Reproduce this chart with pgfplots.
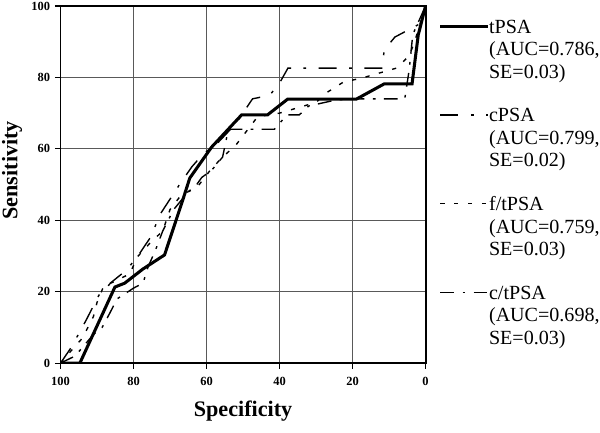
\documentclass[border=0pt]{standalone}
\usepackage{fontspec}
\setmainfont{Liberation Serif}
\usepackage{pgfplots}
\pgfplotsset{compat=1.18}
\begin{document}
\begin{tikzpicture}
\useasboundingbox (-1.537,-1.753) rectangle (13.70,9.222);
\begin{axis}[at={(0,0)},anchor=south west,scale only axis,width=9.27cm,height=9.07cm,
 x dir=reverse,xmin=0,xmax=100,ymin=0,ymax=100,
 xtick={0,20,...,100},ytick={0,20,...,100},
 grid=major,grid style={black!65,line width=0.6pt},
 axis line style={line width=1.4pt},
 tick style={black,line width=0.8pt},tick align=outside,major tick length=4pt,tick pos=left,
 ticklabel style={font=\fontsize{9}{10}\selectfont\bfseries},
 xticklabel style={yshift=-0.8mm},
 /pgf/number format/assume math mode=true,
 xlabel={Specificity},ylabel={Sensitivity},
 label style={font=\fontsize{16}{18}\selectfont\bfseries},
 xlabel style={at={(axis description cs:0.5,-0.135)},anchor=center},
 ylabel style={at={(axis description cs:-0.133,0.54)},anchor=center},
 legend style={draw=none,fill=none,at={(axis description cs:1.040,0.97)},anchor=north west,
  font=\fontsize{14.5}{16.3}\selectfont,cells={align=left},row sep=5.7mm,inner sep=0pt,
  nodes={inner xsep=1pt}},
 legend cell align=left,
 legend image code/.code={\path[draw=none] (0cm,0cm) rectangle (1.2cm,0cm);
  \draw[#1,overlay] (0cm,17pt) -- (1.2cm,17pt);},
]
\addplot[black,line width=2.2pt] coordinates {(100,0)(94.7,0)(85.1,21.3)(82.4,22.4)(77.5,26.3)(71.5,30.3)(66.5,45.7)(64.6,51.8)(58.6,60.5)(50.4,69.5)(43.3,69.5)(37.8,73.9)(19,73.9)(11.3,78.2)(3.7,78.2)(2,91.9)(0,100)};
\addlegendentry{tPSA\\(AUC=0.786,\\SE=0.03)}
\addplot[black,line width=1pt,dash pattern=on 13pt off 9pt on 2pt off 9pt] coordinates {(100,0)(97,4.5)(93,12)(89.5,19)(86,22.7)(82,26)(79,29.7)(75.5,35)(72.5,42)(67.4,50)(64,55)(61,58.5)(57,61.6)(52,67)(47.4,74)(42.7,75)(40,78.4)(37.7,82.6)(12,82.6)(11.3,87.7)(8.4,91.3)(1.2,95.2)(0,100)};
\addlegendentry{cPSA\\(AUC=0.799,\\SE=0.02)}
\addplot[black,line width=1pt,dash pattern=on 3pt off 7pt] coordinates {(100,0)(97.5,3)(94,7)(91,13)(90,17)(88,22)(86,22.5)(81,25)(79,29.7)(75.5,33.6)(72,37)(70,43)(67,47)(64,48.5)(62,50)(59,54)(55.6,57.7)(52,61)(46,69)(40,70)(30,73)(27,75.8)(22.5,78.7)(17.5,79.8)(8,82.6)(4.5,86)(3,90)(1.5,95)(0,100)};
\addlegendentry{f/tPSA\\(AUC=0.759,\\SE=0.03)}
\addplot[black,line width=1pt,dash pattern=on 10pt off 6pt on 2pt off 6pt] coordinates {(100,0)(96,2)(91,8)(88.6,10)(86.5,14)(84.5,18)(80,21)(77.4,22.4)(76,27)(74,31.6)(72,37)(69,43)(65,48)(62.7,50)(61.3,52)(58.6,54)(55.6,57.7)(54,65.5)(41.4,65.5)(38,69.5)(34.6,69.5)(32,72)(24.5,73.7)(17,74)(5.7,74)(4.5,82)(3.5,92)(0,100)};
\addlegendentry{c/tPSA\\(AUC=0.698,\\SE=0.03)}
\end{axis}
\end{tikzpicture}
\end{document}
